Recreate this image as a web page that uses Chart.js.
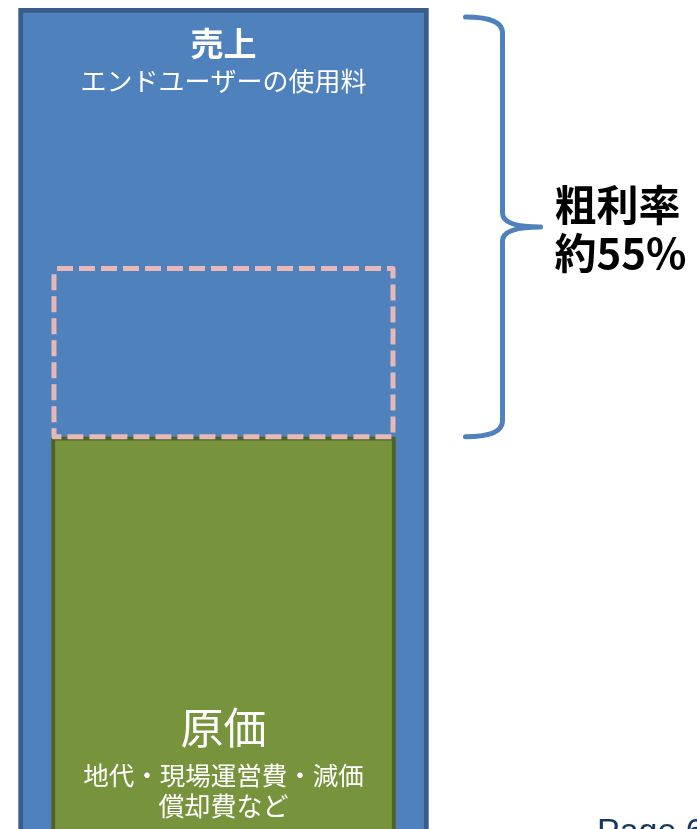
<!DOCTYPE html>
<html>
<head>
<meta charset="utf-8">
<script src="https://cdn.jsdelivr.net/npm/chart.js@4.4.1/dist/chart.umd.min.js"></script>
<style>
  html, body { margin: 0; padding: 0; background: #fff; overflow: hidden; }
</style>
</head>
<body>
<canvas id="myChart" width="697" height="829"></canvas>
<script>
// values (percent of revenue)
var categories = [''];
var revenue = [100];
var cost = [45];
var marginBox = [[45, 66.6]];
var yMin = -5.3;

var salesTitle = '売上';
var salesSub = 'エンドユーザーの使用料';
var costTitle = '原価';
var costSub = ['地代・現場運営費・減価', '償却費など'];
var marginText = ['粗利率', '約55%'];
var pageText = 'Page 6';

var JP = '"Noto Sans CJK JP", "Noto Sans", sans-serif';

//labels, brace and dashed box drawn from the bar elements
var overlay = {
  id: 'overlay',
  afterDatasetsDraw: function(chart){
    var ctx = chart.ctx;
    var rev = chart.getDatasetMeta(0).data[0];
    var cst = chart.getDatasetMeta(1).data[0];
    var box = chart.getDatasetMeta(2).data[0];

    // dashed box
    ctx.save();
    ctx.strokeStyle = '#e6b9b8';
    ctx.lineWidth = 5;
    ctx.lineJoin = 'round';
    ctx.setLineDash([16, 6]);
    ctx.lineDashOffset = -3;
    ctx.strokeRect(box.x - box.width/2, box.y, box.width, box.base - box.y);
    ctx.restore();

    // texts inside bars
    ctx.save();
    ctx.fillStyle = '#ffffff';
    ctx.textAlign = 'center';
    ctx.textBaseline = 'middle';
    ctx.font = 'bold 33px ' + JP;
    ctx.fillText(salesTitle, rev.x, rev.y + 35);
    ctx.font = '26px ' + JP;
    ctx.fillText(salesSub, rev.x, rev.y + 73);
    ctx.font = '43px ' + JP;
    ctx.fillText(costTitle, cst.x, cst.y + 291);
    ctx.font = '25.5px ' + JP;
    ctx.fillText(costSub[0], cst.x, cst.y + 338);
    ctx.font = '26px ' + JP;
    ctx.fillText(costSub[1], cst.x, cst.y + 369);
    ctx.restore();

    // brace over gross margin
    var top = rev.y + 9, bottom = cst.y;
    var mid = (top + bottom) / 2;
    var x0 = rev.x + rev.width/2 + 37, x1 = x0 + 37, xt = x0 + 75;
    ctx.save();
    ctx.strokeStyle = '#4f81bd';
    ctx.lineWidth = 5;
    ctx.lineCap = 'round';
    ctx.lineJoin = 'round';
    ctx.beginPath();
    ctx.moveTo(x0, top);
    ctx.quadraticCurveTo(x1, top, x1, top + 16);
    ctx.lineTo(x1, mid - 14);
    ctx.quadraticCurveTo(x1, mid, xt, mid);
    ctx.moveTo(xt, mid);
    ctx.quadraticCurveTo(x1, mid, x1, mid + 14);
    ctx.lineTo(x1, bottom - 16);
    ctx.quadraticCurveTo(x1, bottom, x0, bottom);
    ctx.stroke();

    ctx.fillStyle = '#000000';
    ctx.textAlign = 'left';
    ctx.textBaseline = 'middle';
    ctx.font = 'bold 42px ' + JP;
    ctx.fillText(marginText[0], xt + 14, mid - 22);
    ctx.fillText(marginText[1], xt + 14, mid + 26);

    ctx.fillStyle = '#17375e';
    ctx.textBaseline = 'alphabetic';
    ctx.font = '34px "Liberation Sans", Arial, sans-serif';
    ctx.fillText(pageText, 597, chart.height + 13);
    ctx.restore();
  }
};

var chart = new Chart(document.getElementById('myChart').getContext('2d'), {
  type: 'bar',
  data: {
    labels: categories,
    datasets: [{
      label: '売上',
      data: revenue,
      base: yMin,
      backgroundColor: '#4f81bd',
      borderColor: '#385d8a',
      borderWidth: 5,
      barThickness: 410,
      order: 3
    }, {
      label: '原価',
      data: cost,
      base: yMin,
      backgroundColor: '#77933c',
      borderColor: '#4f6228',
      borderWidth: 4,
      barThickness: 344,
      order: 2
    }, {
      label: '粗利',
      data: marginBox,
      backgroundColor: 'rgba(0,0,0,0)',
      borderWidth: 0,
      barThickness: 339,
      order: 1
    }]
  },
  options: {
    responsive: false,
    animation: false,
    maintainAspectRatio: false,
    layout: { padding: { top: 8, right: 250, left: 0, bottom: 0 } },
    plugins: { legend: { display: false }, tooltip: { enabled: false } },
    scales: {
      x: { display: false, stacked: false, grid: { display: false } },
      y: { display: false, min: yMin, max: 100 }
    },
    datasets: { bar: { grouped: false } }
  },
  plugins: [overlay]
});
</script>
</body>
</html>
